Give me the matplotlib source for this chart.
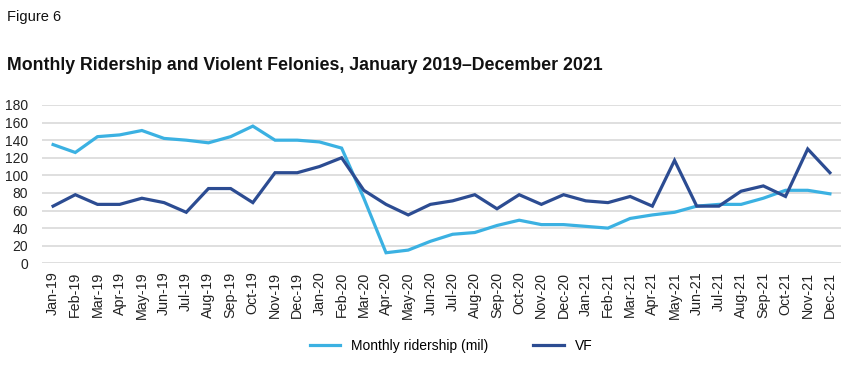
import numpy as np
import matplotlib.pyplot as plt

plt.rcParams['font.family'] = ['Liberation Sans', 'DejaVu Sans']

# Month labels, Jan 2019 - Dec 2021
months = ['Jan', 'Feb', 'Mar', 'Apr', 'May', 'Jun',
          'Jul', 'Aug', 'Sep', 'Oct', 'Nov', 'Dec']
years = ['19', '20', '21']
labels = [m + '-' + y for y in years for m in months]

# Monthly ridership (millions)
ridership = [135, 126, 144, 146, 151, 142, 140, 137, 144, 156, 140, 140,
             138, 131, 74, 12, 15, 25, 33, 35, 43, 49, 44, 44,
             42, 40, 51, 55, 58, 65, 67, 67, 74, 83, 83, 79]

# Violent felonies
vf = [65, 78, 67, 67, 74, 69, 58, 85, 85, 69, 103, 103,
      110, 120, 83, 67, 55, 67, 71, 78, 62, 78, 67, 78,
      71, 69, 76, 65, 117, 65, 65, 82, 88, 76, 130, 103]

light_blue = '#3BB1E2'
dark_blue = '#2C4C92'

fig = plt.figure(figsize=(8.47, 3.71), dpi=100)
W, H = 847, 371
ax = fig.add_axes([42 / W, 1 - 263.3 / H, (841 - 42) / W, (263.3 - 105) / H])

x = np.arange(len(labels))
ax.plot(x, ridership, color=light_blue, lw=2.3, label='Monthly ridership (mil)',
        solid_joinstyle='miter', zorder=3)
ax.plot(x, vf, color=dark_blue, lw=2.3, label='VF', solid_joinstyle='miter', zorder=4)

ax.set_xlim(-0.5, len(labels) - 0.5)
ax.set_ylim(0, 180)
ax.set_yticks(range(0, 181, 20))
ax.grid(axis='y', color='#D9D9D9', lw=1.2)
ax.set_axisbelow(True)
for s in ax.spines.values():
    s.set_visible(False)

ax.set_xticks(x)
ax.set_xticklabels(labels, rotation=90, fontsize=10.3, color='#222222')
ax.tick_params(axis='x', length=0, pad=6)
ax.tick_params(axis='y', length=0, pad=10, labelsize=10, labelcolor='#222222')

fig.text(7 / W, 1 - 17 / H, 'Figure 6', fontsize=10.5, va='center', color='#111111')
fig.text(7 / W, 1 - 65 / H,
         'Monthly Ridership and Violent Felonies, January 2019\u2013December 2021',
         fontsize=12.8, fontweight='bold', va='center', color='#111111')

fig.legend(loc='center', bbox_to_anchor=(451 / W, 1 - 346 / H), ncol=2,
           frameon=False, fontsize=10, handlelength=2.2, handletextpad=0.8,
           columnspacing=3.2)

fig.savefig('out.png', dpi=100)
